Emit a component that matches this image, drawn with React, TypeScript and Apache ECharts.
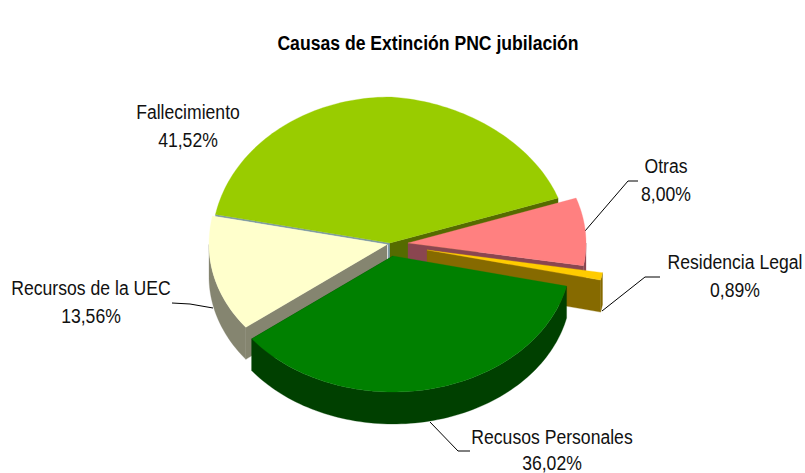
import React, { useEffect, useRef } from "react";
import * as echarts from "echarts";

const chartTitle = "Causas de Extinción PNC jubilación";
const sliceNames = ["Fallecimiento", "Otras", "Residencia Legal", "Recusos Personales", "Recursos de la UEC"];
const sliceValues = [41.52, 8.0, 0.89, 36.02, 13.56];
const topColors = ["#99cc00", "#ff8080", "#ffcc00", "#008000", "#ffffcc"];
const wallColors = ["#556b00", "#8a4650", "#866a00", "#004000", "#858570"];
const apexX = [390, 408, 427, 393, 387];
const apexY = [243, 243, 250, 256, 244.5];
const drawOrder = [0, 1, 2, 4, 3];
const labelCenterX = [188, 666, 735, 552, 91];
const labelLineY = [112, 166, 262, 437, 288];
const leaders = [
  [],
  [[585, 231], [628, 181], [638, 181]],
  [[602, 311], [645, 277], [660, 277]],
  [[430, 422], [458, 451], [470, 451]],
  [[172, 303], [190, 304], [213, 308]],
];
const START_ANGLE = 168.7;
const RX = 178;
const RY_BACK = 146;
const RY_FRONT = 136;
const DEPTH = 32;
const BACK_WARP = 5;
const LINE_GAP = 28;
const MAX_TEXT_Y = 463;

const total = sliceValues.reduce((a, b) => a + b, 0);
const rad = (d: number) => (d * Math.PI) / 180;

function sliceAngles(i: number): [number, number] {
  let a = START_ANGLE;
  for (let k = 0; k < i; k++) a -= (sliceValues[k] / total) * 360;
  return [a, a - (sliceValues[i] / total) * 360];
}

function rimPoint(i: number, theta: number): number[] {
  const s = Math.sin(rad(theta));
  const c = Math.cos(rad(theta));
  const ry = s >= 0 ? RY_BACK : RY_FRONT;
  const warp = s > 0 && c > 0 ? BACK_WARP * 2 * s * c : 0;
  return [apexX[i] + RX * c, apexY[i] - ry * s + warp];
}

function arcPoints(i: number, from: number, to: number): number[][] {
  const steps = Math.max(2, Math.ceil(Math.abs(from - to) / 1.5));
  const pts: number[][] = [];
  for (let k = 0; k <= steps; k++) pts.push(rimPoint(i, from + ((to - from) * k) / steps));
  return pts;
}

const drop = (pts: number[][]) => pts.map((p) => [p[0], p[1] + DEPTH]);

function renderSlice(_: any, api: any) {
  const i = api.value(0) as number;
  const [a0, a1] = sliceAngles(i);
  const apex = [apexX[i], apexY[i]];
  const wall = wallColors[i];
  const children: any[] = [];
  const poly = (points: number[][], fill: string) => ({
    type: "polygon",
    shape: { points },
    style: { fill, stroke: fill, lineWidth: 0.3 },
  });
  if (i === 0) {
    const tip = rimPoint(i, a0);
    children.push(poly([apex, tip, [tip[0], tip[1] + 2], [apex[0], apex[1] + 2]], "#7f9ba3"));
    children.push(poly([apex, [apex[0], apex[1] + DEPTH], [apex[0] - 2, apex[1] + DEPTH], [apex[0] - 2, apex[1]]], "#7f9ba3"));
  }
  // radial side that faces the viewer: the clockwise end on the right, the start on the left
  const sideTip = rimPoint(i, i === 4 ? a0 : a1);
  children.push(poly([apex, sideTip, [sideTip[0], sideTip[1] + DEPTH], [apex[0], apex[1] + DEPTH]], wall));
  // outer curved wall: only the part of the rim in front of the pie
  const from = Math.min(a0, 0);
  const to = Math.max(a1, -180);
  if (from > to) {
    const rim = arcPoints(i, from, to);
    children.push(poly([...rim, ...drop(rim).reverse()], wall));
  }
  const top = arcPoints(i, a0, a1);
  children.push(poly([apex, ...top], topColors[i]));
  return { type: "group", children };
}

function buildLabels(): any[] {
  const out: any[] = [];
  sliceNames.forEach((name, i) => {
    const pct = sliceValues[i].toFixed(2).replace(".", ",") + "%";
    [name, pct].forEach((t, k) => {
      out.push({
        type: "text",
        x: labelCenterX[i],
        y: Math.min(labelLineY[i] + k * LINE_GAP, MAX_TEXT_Y),
        scaleY: 1.1,
        style: {
          text: t,
          fill: "#111",
          font: '17.6px "Liberation Sans"',
          textAlign: "center",
          textVerticalAlign: "middle",
        },
      });
    });
    if (leaders[i].length) {
      out.push({
        type: "polyline",
        shape: { points: leaders[i] },
        style: { stroke: "#000", lineWidth: 1, fill: "none" },
      });
    }
  });
  out.push({
    type: "text",
    x: 428,
    y: 43,
    scaleY: 1.1,
    style: {
      text: chartTitle,
      fill: "#000",
      font: 'bold 17.6px "Liberation Sans"',
      textAlign: "center",
      textVerticalAlign: "middle",
    },
  });
  return out;
}

export default function App() {
  const ref = useRef<HTMLDivElement>(null);
  useEffect(() => {
    document.body.style.margin = "0";
    const chart = echarts.init(ref.current!, undefined, { renderer: "svg" });
    chart.setOption({
      animation: false,
      backgroundColor: "#fff",
      series: [
        {
          type: "custom",
          coordinateSystem: "none",
          renderItem: renderSlice,
          data: drawOrder.map((i) => [i, sliceValues[i]]),
          silent: true,
          z: 1,
        },
      ],
      graphic: { elements: buildLabels() },
    });
    return () => chart.dispose();
  }, []);
  return <div ref={ref} style={{ width: 805, height: 473 }} />;
}
